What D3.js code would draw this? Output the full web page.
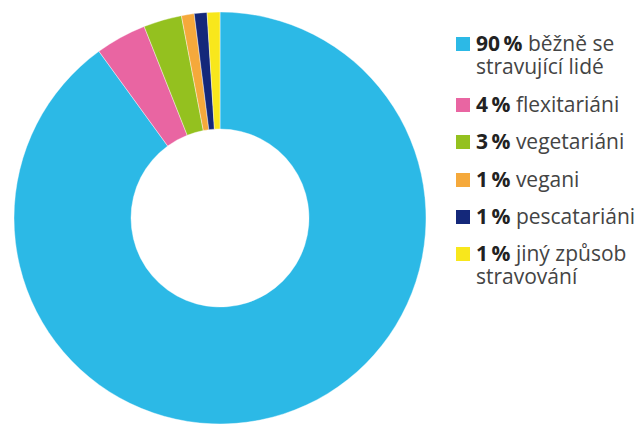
<!DOCTYPE html>
<html><head><meta charset="utf-8">
<script src="https://cdn.jsdelivr.net/npm/d3@7"></script>
<style>html,body{margin:0;padding:0;background:#fff}</style>
</head><body>
<svg id="c" width="644" height="427"></svg>
<script>
const categories = ["běžně se stravující lidé","flexitariáni","vegetariáni","vegani","pescatariáni","jiný způsob stravování"];
const values = [90,4,3,1,1,1];
const labelLines = [["běžně se","stravující lidé"],["flexitariáni"],["vegetariáni"],["vegani"],["pescatariáni"],["jiný způsob","stravování"]];
const colors = ["#2cb9e6","#e965a2","#94c11f","#f5a93b","#14287a","#f8e71c"];

const svg = d3.select("#c");
const cx = 220, cy = 218, R = 206, r = 89;
const pie = d3.pie().sort(null).value(d => d)(values);
const arc = d3.arc().innerRadius(r).outerRadius(R);
const g = svg.append("g").attr("transform", `translate(${cx},${cy})`);
g.selectAll("path").data(pie).join("path")
  .attr("d", arc).attr("fill", (d,i) => colors[i])
  .attr("stroke", "#fff").attr("stroke-width", 0.4);

const baselines = [51,112,149,187,224,261];
const lg = svg.append("g");
categories.forEach((c,i) => {
  const y = baselines[i];
  lg.append("rect").attr("x",456).attr("y",y-14).attr("width",14).attr("height",14).attr("fill",colors[i]);
  labelLines[i].forEach((ln,j) => {
    const t = lg.append("text").attr("x",476).attr("y",y + j*22.5)
      .attr("font-family","'Open Sans', sans-serif").attr("font-size",21).attr("fill","#444");
    if (j===0) {
      t.append("tspan").attr("font-weight","bold").attr("fill","#222").text(values[i] + "\u2009%");
      t.append("tspan").text(" " + ln);
    } else t.text(ln);
  });
});
</script>
</body></html>
